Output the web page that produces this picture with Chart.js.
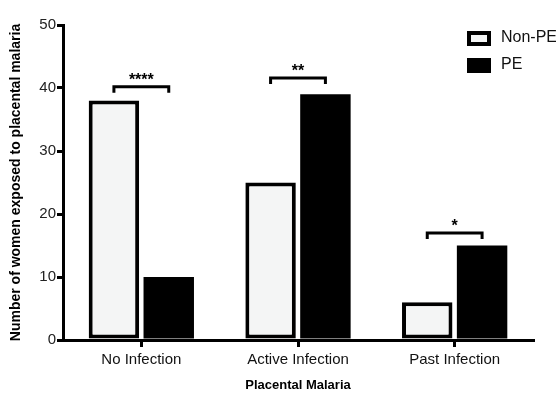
<!DOCTYPE html>
<html>
<head>
<meta charset="utf-8">
<script src="https://cdn.jsdelivr.net/npm/chart.js@4.4.1/dist/chart.umd.min.js"></script>
<style>
  html, body { margin: 0; padding: 0; background: #fff; }
  #wrap { width: 556px; height: 393px; }
</style>
</head>
<body>
<div id="wrap"><canvas id="myChart" width="556" height="393"></canvas></div>
<script>
// data
const categories = ["No Infection", "Active Infection", "Past Infection"];
const nonPE = [38, 25, 6];
const pe = [10, 39, 15];
const yTicks = [0, 10, 20, 30, 40, 50];
const sigLevels = [40.2, 41.6, 17];
const sigLabels = ["****", "**", "*"];

const FONT = "'Liberation Sans', Arial, sans-serif";

// significance brackets between the two bars of each group
const bracketPlugin = {
  id: "brackets",
  afterDatasetsDraw(chart) {
    const ctx = chart.ctx;
    const y = chart.scales.y;
    const m0 = chart.getDatasetMeta(0);
    const m1 = chart.getDatasetMeta(1);
    ctx.save();
    ctx.strokeStyle = "#000";
    ctx.lineWidth = 3;
    ctx.fillStyle = "#000";
    ctx.font = "bold 16px " + FONT;
    ctx.textAlign = "center";
    ctx.textBaseline = "alphabetic";
    sigLevels.forEach((lvl, i) => {
      const x1 = m0.data[i].x;
      const x2 = m1.data[i].x;
      const yy = y.getPixelForValue(lvl);
      ctx.beginPath();
      ctx.moveTo(x1, yy + 6);
      ctx.lineTo(x1, yy);
      ctx.lineTo(x2, yy);
      ctx.lineTo(x2, yy + 6);
      ctx.stroke();
      ctx.fillText(sigLabels[i], (x1 + x2) / 2, yy - 2);
    });
    ctx.restore();
  }
};

// legend drawn inside the plot, top right
const legendPlugin = {
  id: "insideLegend",
  afterDraw(chart) {
    const ctx = chart.ctx;
    ctx.save();
    chart.data.datasets.forEach((ds, i) => {
      const top = 31 + i * 27;
      ctx.fillStyle = ds.backgroundColor;
      ctx.fillRect(467, top, 24, 15);
      if (ds.borderWidth) {
        ctx.strokeStyle = "#000";
        ctx.lineWidth = 4;
        ctx.strokeRect(469, top + 2, 20, 11);
      }
      ctx.fillStyle = "#111";
      ctx.font = "16px " + FONT;
      ctx.textBaseline = "middle";
      ctx.textAlign = "left";
      ctx.fillText(ds.label, 501, top + 7);
    });
    ctx.restore();
  }
};

const ctx = document.getElementById("myChart").getContext("2d");
new Chart(ctx, {
  type: "bar",
  data: {
    labels: categories,
    datasets: [
      {
        label: "Non-PE",
        data: nonPE,
        backgroundColor: "#f4f5f5",
        borderColor: "#000",
        borderWidth: 4,
        borderSkipped: false
      },
      {
        label: "PE",
        data: pe,
        backgroundColor: "#000",
        borderWidth: 0
      }
    ]
  },
  options: {
    responsive: false,
    animation: false,
    categoryPercentage: 0.7,
    barPercentage: 0.92,
    layout: { padding: { top: 25, right: 23, left: 8, bottom: 0 } },
    plugins: {
      legend: { display: false },
      tooltip: { enabled: false }
    },
    scales: {
      x: {
        grid: {
          offset: false,
          drawOnChartArea: false,
          color: "#000",
          lineWidth: 3,
          tickLength: 7
        },
        border: { color: "#000", width: 3 },
        ticks: {
          color: "#111",
          font: { family: FONT, size: 15 },
          padding: 4
        },
        title: {
          display: true,
          text: "Placental Malaria",
          color: "#000",
          font: { family: FONT, size: 13, weight: "bold" },
          padding: { top: 6, bottom: 0 }
        },
        afterFit(scale) { scale.height = 53; }
      },
      y: {
        min: 0,
        max: 50,
        afterBuildTicks(scale) {
          scale.ticks = yTicks.map(v => ({ value: v }));
        },
        grid: {
          drawOnChartArea: false,
          color: "#000",
          lineWidth: 3,
          tickLength: 6
        },
        border: { color: "#000", width: 3 },
        ticks: {
          color: "#222",
          font: { family: FONT, size: 15 },
          padding: 1
        },
        title: {
          display: true,
          text: "Number of women exposed to placental malaria",
          color: "#000",
          font: { family: FONT, size: 14, weight: "bold" },
          padding: { top: 0, bottom: 4 }
        },
        afterFit(scale) { scale.width = 55; }
      }
    }
  },
  plugins: [bracketPlugin, legendPlugin]
});
</script>
</body>
</html>
